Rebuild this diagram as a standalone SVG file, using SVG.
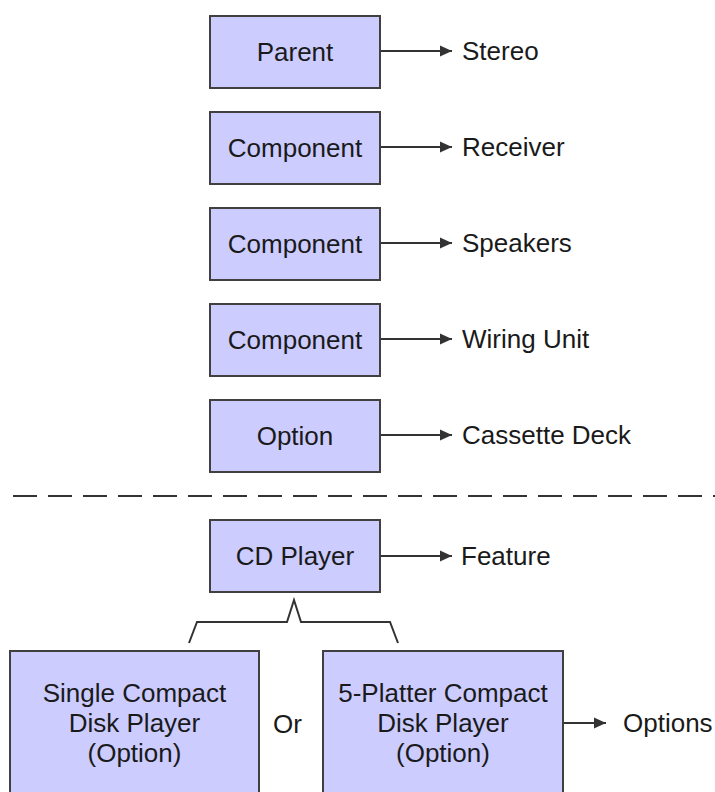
<svg xmlns="http://www.w3.org/2000/svg" width="715" height="792" viewBox="0 0 715 792">
<style>
.box{fill:#ccccff;stroke:#404040;stroke-width:2}
.t{font-family:"Liberation Sans",Arial,sans-serif;font-size:26px;fill:#1a1a1a}
.c{text-anchor:middle}
.ln{stroke:#333;stroke-width:2;fill:none}
</style>
<defs>
<marker id="ah" markerWidth="12" markerHeight="12" refX="12" refY="6" orient="auto" markerUnits="userSpaceOnUse">
<path d="M0,0.5 L12,6 L0,11.5 Z" fill="#333"/>
</marker>
</defs>
<rect width="715" height="792" fill="#fff"/>
<g id="connectors">
<line class="ln" x1="380" y1="51" x2="452" y2="51" marker-end="url(#ah)"/>
<line class="ln" x1="380" y1="147" x2="452" y2="147" marker-end="url(#ah)"/>
<line class="ln" x1="380" y1="243" x2="452" y2="243" marker-end="url(#ah)"/>
<line class="ln" x1="380" y1="339" x2="452" y2="339" marker-end="url(#ah)"/>
<line class="ln" x1="380" y1="435" x2="452" y2="435" marker-end="url(#ah)"/>
<line class="ln" x1="380" y1="556" x2="452" y2="556" marker-end="url(#ah)"/>
<line class="ln" x1="563" y1="723" x2="606" y2="723" marker-end="url(#ah)"/>
<line class="ln" x1="13" y1="496" x2="715" y2="496" stroke-dasharray="24 11"/>
<path class="ln" d="M189,643 L197,622 L287,622 L294,600 L301,622 L390,622 L398,643"/>
</g>
<g id="parent"><rect class="box" x="210" y="16" width="170" height="72"/><text class="t c" x="295" y="61">Parent</text></g>
<g id="component1"><rect class="box" x="210" y="112" width="170" height="72"/><text class="t c" x="295" y="157">Component</text></g>
<g id="component2"><rect class="box" x="210" y="208" width="170" height="72"/><text class="t c" x="295" y="253">Component</text></g>
<g id="component3"><rect class="box" x="210" y="304" width="170" height="72"/><text class="t c" x="295" y="349">Component</text></g>
<g id="option"><rect class="box" x="210" y="400" width="170" height="72"/><text class="t c" x="295" y="445">Option</text></g>
<g id="cdplayer"><rect class="box" x="210" y="520" width="170" height="72"/><text class="t c" x="295" y="565">CD Player</text></g>
<g id="single"><rect class="box" x="10" y="651" width="249" height="150"/>
<text class="t c" x="134.5" y="702">Single Compact</text>
<text class="t c" x="134.5" y="732">Disk Player</text>
<text class="t c" x="134.5" y="762">(Option)</text></g>
<g id="platter"><rect class="box" x="323" y="651" width="240" height="150"/>
<text class="t c" x="443" y="702">5-Platter Compact</text>
<text class="t c" x="443" y="732">Disk Player</text>
<text class="t c" x="443" y="762">(Option)</text></g>
<g id="labels">
<text class="t" x="462" y="60">Stereo</text>
<text class="t" x="462" y="156">Receiver</text>
<text class="t" x="462" y="252">Speakers</text>
<text class="t" x="462" y="348">Wiring Unit</text>
<text class="t" x="462" y="444">Cassette Deck</text>
<text class="t" x="461" y="565">Feature</text>
<text class="t" x="273" y="733">Or</text>
<text class="t" x="623" y="732">Options</text>
</g>
</svg>
